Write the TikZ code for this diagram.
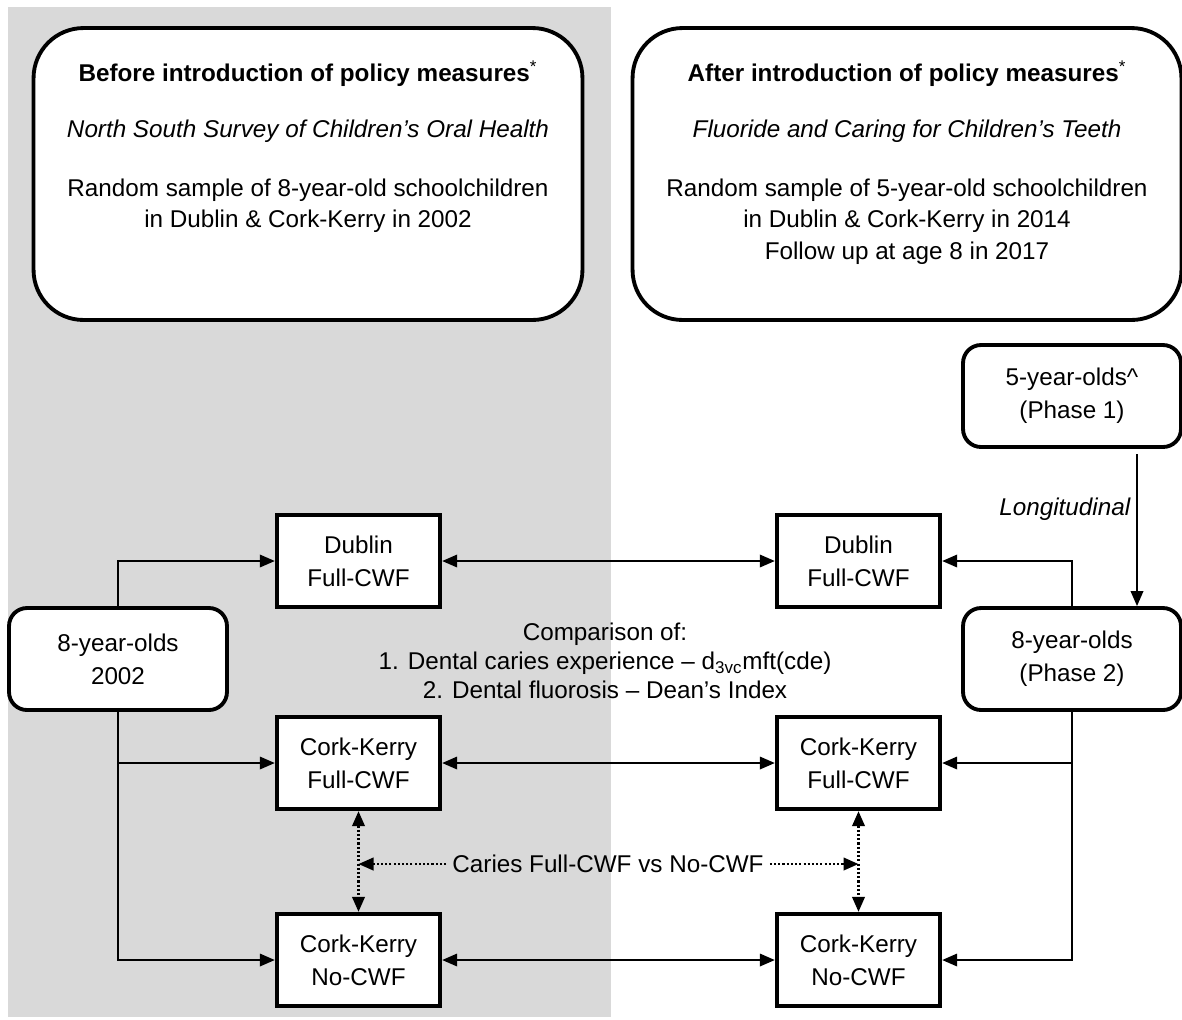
\documentclass[tikz,border=0pt]{standalone}
\usepackage{fontspec}
\setmainfont{Liberation Sans}
\usetikzlibrary{positioning,arrows.meta}
\definecolor{panelgray}{HTML}{D9D9D9}

\begin{document}
\begin{tikzpicture}[x=0.02cm, y=-0.02cm,
  font=\fontsize{13.8}{18.8}\selectfont,
  bigbox/.style={draw, line width=2.2pt, rounded corners=1cm, fill=white, minimum width=10.98cm, minimum height=5.84cm},
  agebox/.style={draw, line width=2.2pt, rounded corners=0.36cm, fill=white, align=center, minimum width=4.36cm, minimum height=2.04cm},
  sitebox/.style={draw, line width=2.5pt, fill=white, align=center, minimum width=3.26cm, minimum height=1.84cm},
  link/.style={line width=1.1pt, -{Triangle[length=0.3cm, width=0.25cm]}},
  both/.style={line width=1.1pt, {Triangle[length=0.3cm, width=0.25cm]}-{Triangle[length=0.3cm, width=0.25cm]}},
  dots/.style={line width=1.4pt, dash pattern=on 1.2pt off 1.2pt},
  boxtext/.style={align=center, anchor=north, inner sep=0pt, font=\fontsize{13.8}{17.9}\selectfont}]
\useasboundingbox (0,0) rectangle (1182,1019);
\fill[panelgray] (8,7) rectangle (611,1017);

% study headers
\node[bigbox] (before) at (308,174) {};
\node[bigbox] (after) at (907,174) {};
\node[boxtext] (beforetxt) at (308,60) {\textbf{Before introduction of policy measures}\textsuperscript{*}\\[0.49cm]
  \textit{North South Survey of Children’s Oral Health}\\[0.55cm]
  Random sample of 8-year-old schoolchildren\\ in Dublin \& Cork-Kerry in 2002};
\node[boxtext] (aftertxt) at (907,60) {\textbf{After introduction of policy measures}\textsuperscript{*}\\[0.49cm]
  \textit{Fluoride and Caring for Children’s Teeth}\\[0.55cm]
  Random sample of 5-year-old schoolchildren\\ in Dublin \& Cork-Kerry in 2014\\ Follow up at age 8 in 2017};

% age groups
\node[agebox] (eightold) at (118,659) {8-year-olds\\2002};
\node[agebox] (fiveyo) at (1072,396) {5-year-olds\textasciicircum\\(Phase 1)};
\node[agebox] (eightyo) at (1072,659) {8-year-olds\\(Phase 2)};

% sites
\node[sitebox] (dubA) at (358.5,561) {Dublin\\Full-CWF};
\node[sitebox] (ckfA) at (358.5,763) {Cork-Kerry\\Full-CWF};
\node[sitebox] (cknA) at (358.5,960) {Cork-Kerry\\No-CWF};
\node[sitebox] (dubB) at (858.5,561) {Dublin\\Full-CWF};
\node[sitebox] (ckfB) at (858.5,763) {Cork-Kerry\\Full-CWF};
\node[sitebox] (cknB) at (858.5,960) {Cork-Kerry\\No-CWF};

\node[align=center, font=\fontsize{13.8}{16.5}\selectfont] (compare) at (605,661) {Comparison of:\\
  1. Dental caries experience – d\textsubscript{3vc}mft(cde)\\
  2. Dental fluorosis – Dean’s Index};

\draw[link] (eightold.north) |- (dubA.west);
\draw[link] (eightold.south) |- (cknA.west);
\draw[link] (eightold.south |- ckfA.west) -- (ckfA.west);
\draw[link] (eightyo.north) |- (dubB.east);
\draw[link] (eightyo.south) |- (cknB.east);
\draw[link] (eightyo.south |- ckfB.east) -- (ckfB.east);

\coordinate (longtop) at (1137,454);
\draw[link] (longtop) -- (longtop |- eightyo.north) node[left, pos=0.36] {\itshape Longitudinal};

\draw[both] (dubA) -- (dubB);
\draw[both] (ckfA) -- (ckfB);
\draw[both] (cknA) -- (cknB);

% caries comparison
\node (caries) at (608,864) {Caries Full-CWF vs No-CWF};
\draw[both, dots] (ckfA) -- (cknA);
\draw[both, dots] (ckfB) -- (cknB);
\draw[link, dots] (caries) -- (caries -| ckfA);
\draw[link, dots] (caries) -- (caries -| ckfB);
\end{tikzpicture}
\end{document}
